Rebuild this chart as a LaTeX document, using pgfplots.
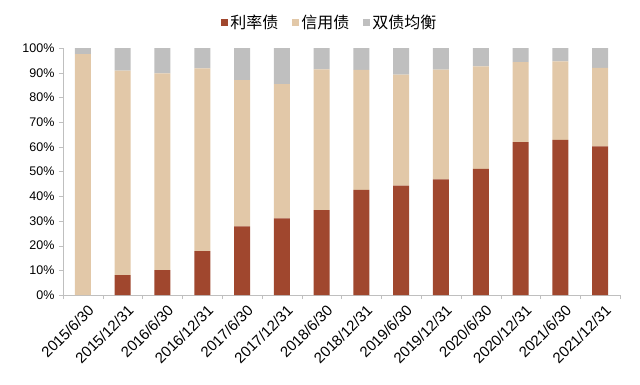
\documentclass[border=0pt]{standalone}
\usepackage{fontspec}
\setmainfont{Liberation Sans}
\newfontfamily\cjk{Noto Sans CJK SC}
\usepackage{pgfplots}
\usepackage{pgfplotstable}
\pgfplotsset{compat=1.18}
\definecolor{cRate}{HTML}{A0472E}
\definecolor{cCredit}{HTML}{E2C8A8}
\definecolor{cBal}{HTML}{BFBFBF}
\definecolor{cAxis}{HTML}{BFBFBF}

\pgfplotstableread{
x rate credit bal
0 0.0 97.5 2.5
1 8.0 82.8 9.2
2 10.1 79.6 10.3
3 17.8 74.0 8.2
4 27.8 59.2 13.0
5 31.0 54.4 14.6
6 34.4 56.9 8.7
7 42.6 48.5 8.9
8 44.3 44.9 10.8
9 46.8 44.4 8.8
10 51.1 41.5 7.4
11 61.9 32.4 5.7
12 62.8 31.8 5.4
13 60.2 31.8 8.0
}\datatable

\pgfplotsset{sqleg/.style={legend image code/.code={\fill[##1] (0pt,-3.5pt) rectangle (7pt,3.5pt);}}}

\begin{document}
\begin{tikzpicture}
\begin{axis}[
  at={(0,0)}, anchor=south west,
  scale only axis, width=557pt, height=247pt,
  ybar stacked, bar width=16pt,
  xmin=-0.5, xmax=13.5, ymin=0, ymax=100,
  axis lines=left,
  axis line style={-, draw=cAxis},
  tick align=outside,
  xtick={0,...,13},
  xticklabels={2015/6/30,2015/12/31,2016/6/30,2016/12/31,2017/6/30,2017/12/31,2018/6/30,2018/12/31,2019/6/30,2019/12/31,2020/6/30,2020/12/31,2021/6/30,2021/12/31},
  major x tick style={draw=none},
  minor xtick={-0.5,0.5,...,13.5},
  minor tick length=4pt,
  minor x tick style={draw=cAxis},
  ytick={0,10,...,100},
  major tick length=4pt,
  y tick style={draw=cAxis},
  yticklabel={\pgfmathprintnumber{\tick}\%},
  /pgf/number format/assume math mode=true,
  yticklabel style={font=\fontsize{12.5}{14}\selectfont, text=black, xshift=-1pt},
  xticklabel style={font=\fontsize{15}{17}\selectfont, text=black, rotate=45, anchor=north east, xshift=3pt, yshift=-3pt},
  legend style={draw=none, fill=none, legend columns=-1, at={(0.479,1.105)}, anchor=center,
    font=\cjk\fontsize{16}{18}\selectfont,
    /tikz/every even column/.append style={column sep=12pt},
    legend cell align=left},
]
\addplot[fill=cRate, draw=none, sqleg] table[x=x, y=rate] {\datatable};
\addplot[fill=cCredit, draw=none, sqleg] table[x=x, y=credit] {\datatable};
\addplot[fill=cBal, draw=none, sqleg] table[x=x, y=bal] {\datatable};
\legend{利率债,信用债,双债均衡}
\end{axis}
\pgfresetboundingbox
\path[use as bounding box] (-63pt,-89pt) rectangle (577pt,295pt);
\end{tikzpicture}
\end{document}
